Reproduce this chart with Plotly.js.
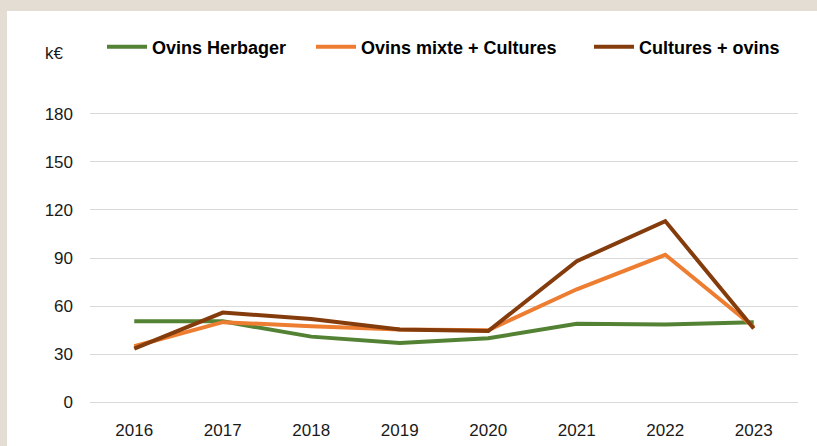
<!DOCTYPE html>
<html>
<head>
<meta charset="utf-8">
<script src="https://cdn.plot.ly/plotly-3.0.1.min.js"></script>
<style>
  html, body { margin: 0; padding: 0; background: #E3DDD3; width: 817px; height: 446px; overflow: hidden; }
  #chart { position: absolute; left: 7px; top: 11px; width: 810px; height: 435px; }
</style>
</head>
<body>
<div id="chart"></div>
<script>
const years = ['2016', '2017', '2018', '2019', '2020', '2021', '2022', '2023'];
const ovinsHerbager = [50.5, 50.5, 41, 37, 40, 49, 48.5, 50];
const ovinsMixteCultures = [35, 50, 47.5, 45.5, 45, 70.5, 92, 47];
const culturesOvins = [33.5, 56, 52, 45.5, 44.5, 88, 113, 46];
const seriesNames = ['Ovins Herbager', 'Ovins mixte + Cultures', 'Cultures + ovins'];
const yTicks = [0, 30, 60, 90, 120, 150, 180];

const W = 810, H = 435;
const colors = ['#548235', '#ED7D31', '#843C0C'];
const seriesData = [ovinsHerbager, ovinsMixteCultures, culturesOvins];
const legendX = [95, 304, 582]; // pixel positions within the div
const legendNames = ['legend', 'legend2', 'legend3'];

const traces = seriesData.map((vals, i) => ({
  x: years,
  y: vals,
  type: 'scatter',
  mode: 'lines',
  name: seriesNames[i],
  line: { color: colors[i], width: 4 },
  legend: legendNames[i],
  hoverinfo: 'skip'
}));

const legendFont = { family: 'Liberation Sans, Arial, sans-serif', size: 18, color: '#000000', weight: 'bold' };
const layout = {
  width: W,
  height: H,
  paper_bgcolor: '#FFFFFF',
  plot_bgcolor: '#FFFFFF',
  margin: { l: 83, r: 19, t: 101.4, b: 42.4 },
  font: { family: 'Liberation Sans, Arial, sans-serif', size: 17, color: '#1a1a1a' },
  xaxis: {
    type: 'category',
    range: [-0.5, 7.5],
    showgrid: false,
    zeroline: false,
    showline: false,
    ticks: '',
    ticklabelstandoff: 14,
    fixedrange: true
  },
  yaxis: {
    range: [-1, 181],
    tickvals: yTicks,
    ticktext: yTicks.map(String),
    showgrid: true,
    gridcolor: '#D9D9D9',
    gridwidth: 1,
    zeroline: false,
    showline: false,
    ticks: '',
    ticklabelstandoff: 16,
    fixedrange: true
  },
  showlegend: true,
  annotations: [{
    text: 'k€',
    xref: 'paper', yref: 'paper',
    x: (36 - 83) / (W - 83 - 19), y: 1 + (101.4 - 43) / (H - 101.4 - 42.4),
    xanchor: 'left', yanchor: 'middle',
    showarrow: false,
    font: { family: 'Liberation Sans, Arial, sans-serif', size: 17, color: '#1a1a1a' }
  }]
};
legendNames.forEach((ln, i) => {
  layout[ln] = {
    orientation: 'h',
    xref: 'container', yref: 'container',
    x: legendX[i] / W, y: 1 - 36 / H,
    xanchor: 'left', yanchor: 'middle',
    bgcolor: 'rgba(0,0,0,0)',
    font: legendFont,
    itemwidth: 40,
    borderwidth: 0
  };
});

Plotly.newPlot('chart', traces, layout, { displayModeBar: false, staticPlot: true });
</script>
</body>
</html>
